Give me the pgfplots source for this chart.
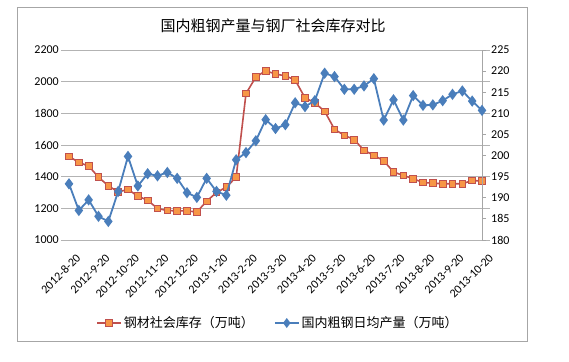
\documentclass[border=0pt]{standalone}
\usepackage{fontspec}
\setmainfont{Carlito}
\newfontfamily\cjk{Noto Sans CJK SC}
\usepackage{pgfplots}
\pgfplotsset{compat=1.18}
\definecolor{exred}{HTML}{C0504D}
\definecolor{exorange}{HTML}{F79646}
\definecolor{exblue}{HTML}{4A7EBB}
\definecolor{gridgray}{HTML}{B3B3B3}
\definecolor{framegray}{HTML}{A6A6A6}
\pgfplotstableread{
i inv
0 1528
1 1490
2 1467
3 1397
4 1342
5 1304
6 1319
7 1277
8 1251
9 1199
10 1186
11 1184
12 1184
13 1177
14 1245
15 1300
16 1334
17 1397
18 1925
19 2029
20 2069
21 2048
22 2037
23 2010
24 1898
25 1866
26 1813
27 1699
28 1661
29 1634
30 1566
31 1535
32 1501
33 1429
34 1408
35 1387
36 1363
37 1359
38 1355
39 1355
40 1355
41 1376
42 1372
}\invtable
\pgfplotstableread{
i prod
0 193.3
1 187.0
2 189.5
3 185.6
4 184.4
5 191.5
6 199.8
7 192.8
8 195.7
9 195.2
10 196.0
11 194.6
12 191.2
13 190.1
14 194.6
15 191.5
16 190.6
17 199.0
18 200.7
19 203.5
20 208.5
21 206.4
22 207.3
23 212.5
24 211.6
25 213.0
26 219.5
27 218.7
28 215.7
29 215.7
30 216.5
31 218.2
32 208.4
33 213.2
34 208.4
35 214.2
36 211.9
37 212.0
38 213.0
39 214.5
40 215.3
41 212.9
42 210.7
}\prodtable
\begin{document}
\begin{tikzpicture}
\path[use as bounding box] (0,0) rectangle (569pt,361pt);
\draw[framegray, line width=0.8pt] (17pt,20pt) rectangle (527pt,354pt);
\node[font=\cjk\fontsize{15}{17}\selectfont] at (273pt,335pt) {国内粗钢产量与钢厂社会库存对比};
\pgfplotsset{
  myaxis/.style={
    scale only axis, width=413pt, height=190pt,
    at={(69pt,121pt)}, anchor=south west,
    xmin=0, xmax=42,
    tick label style={font=\fontsize{12}{13}\selectfont},
    /pgf/number format/assume math mode=true,
    /pgf/number format/1000 sep={},
  }
}
\begin{axis}[myaxis,
  ymin=1000, ymax=2200, ytick distance=200,
  ymajorgrids, grid style={gridgray, line width=0.8pt},
  axis line style={draw=none},
  xtick style={draw=none},
  ytick style={gridgray, line width=0.8pt},
  tick align=outside, major tick length=8pt,
  xtick={0,3,...,42},
  xticklabels={2012-8-20,2012-9-20,2012-10-20,2012-11-20,2012-12-20,2013-1-20,2013-2-20,2013-3-20,2013-4-20,2013-5-20,2013-6-20,2013-7-20,2013-8-20,2013-9-20,2013-10-20},
  xticklabel style={rotate=45, anchor=north east, inner sep=1pt, yshift=-7pt, xshift=2pt},
  yticklabel style={anchor=east, xshift=-1pt, inner sep=1pt},
  legend columns=2,
  legend style={draw=none, fill=none, at={(0.506,-0.437)}, anchor=center,
    font=\cjk\fontsize{13}{15}\selectfont,
    /tikz/every even column/.append style={column sep=18pt}},
  legend image code/.code={\draw[mark repeat=2,mark phase=2,#1] plot coordinates {(0pt,0pt)(12pt,0pt)(24pt,0pt)};},
]
\addplot[exred, line width=1.6pt, mark=square*, mark size=3.3pt,
  mark options={fill=exorange, draw=exred, line width=0.8pt}] table[x=i, y=inv] {\invtable};
\addlegendentry{钢材社会库存（万吨）}
\addlegendimage{exblue, line width=1.8pt, mark=diamond*, mark size=3.5pt, mark options={fill=exblue, draw=exblue}}
\addlegendentry{国内粗钢日均产量（万吨）}
\end{axis}
\begin{axis}[myaxis,
  ymin=180, ymax=225, ytick distance=5,
  axis x line=none, axis y line*=right,
  y axis line style={framegray, line width=0.8pt},
  ytick style={framegray, line width=0.8pt},
  tick align=outside, major tick length=4pt,
  yticklabel style={anchor=west, xshift=4pt, inner sep=1pt},
]
\addplot[exblue, line width=1.8pt, mark=diamond*, mark size=4.2pt,
  mark options={fill=exblue, draw=exblue}] table[x=i, y=prod] {\prodtable};
\end{axis}
\end{tikzpicture}
\end{document}
